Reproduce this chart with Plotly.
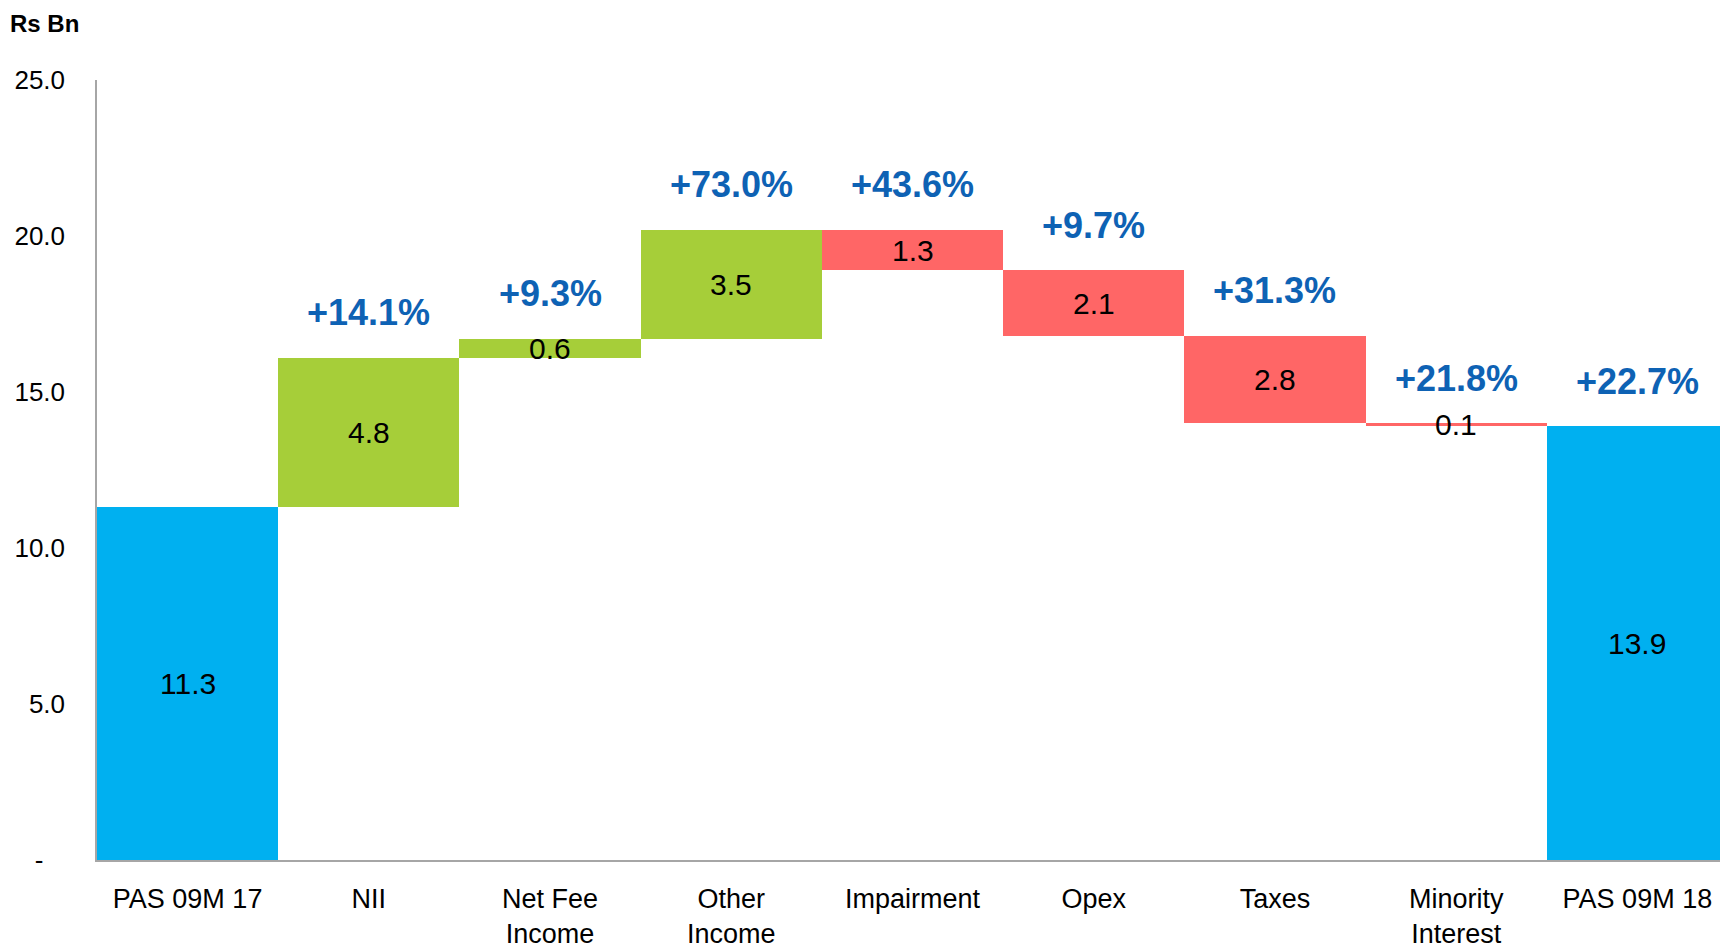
import plotly.graph_objects as go

categories = ["PAS 09M 17", "NII", "Net Fee<br>Income", "Other<br>Income", "Impairment",
              "Opex", "Taxes", "Minority<br>Interest", "PAS 09M 18"]
values = [11.3, 4.8, 0.6, 3.5, -1.3, -2.1, -2.8, -0.1, 13.9]
measures = ["absolute", "relative", "relative", "relative", "relative",
            "relative", "relative", "relative", "total"]
value_labels = ["11.3", "4.8", "0.6", "3.5", "1.3", "2.1", "2.8", "0.1", "13.9"]
growth_labels = ["", "+14.1%", "+9.3%", "+73.0%", "+43.6%", "+9.7%", "+31.3%", "+21.8%", "+22.7%"]
y_tickvals = [0, 5, 10, 15, 20, 25]
y_ticktext = ["-\u00a0\u00a0\u00a0", "5.0", "10.0", "15.0", "20.0", "25.0"]

FONT = "Liberation Sans, Arial, sans-serif"
GREEN = "#A6CE39"
RED = "#FF6666"
BLUE = "#00B0F0"
PCT = "#0E62B4"

W, H = 1720, 943
ML, MR, MT, MB = 89, 0, 72, 91

fig = go.Figure(go.Waterfall(
    x=categories,
    y=values,
    measure=measures,
    increasing=dict(marker=dict(color=GREEN)),
    decreasing=dict(marker=dict(color=RED)),
    totals=dict(marker=dict(color=BLUE)),
    connector=dict(visible=False),
    hoverinfo="skip",
    showlegend=False,
))

annotations = []
running = 0.0
for i, (c, v, m) in enumerate(zip(categories, values, measures)):
    if m == "absolute":
        lo, hi = 0.0, v
        running = v
    elif m == "total":
        lo, hi = 0.0, running
    else:
        start = running
        running = running + v
        lo, hi = min(start, running), max(start, running)
    mid = (lo + hi) / 2
    annotations.append(dict(x=c, y=mid, xref="x", yref="y", text=value_labels[i],
                            showarrow=False, font=dict(family=FONT, size=30, color="#000000"),
                            xanchor="center", yanchor="middle"))
    if growth_labels[i]:
        annotations.append(dict(x=c, y=hi, xref="x", yref="y", text="<b>" + growth_labels[i] + "</b>",
                                showarrow=False, font=dict(family=FONT, size=36, color=PCT),
                                xanchor="center", yanchor="middle", yshift=45))

pw = W - ML - MR
ph = H - MT - MB
annotations.append(dict(x=-ML / pw, y=1 + MT / ph, xref="paper", yref="paper",
                        text="<b>Rs Bn</b>", showarrow=False,
                        font=dict(family=FONT, size=24, color="#000000"),
                        xanchor="left", yanchor="top"))

fig.update_layout(
    width=W, height=H,
    margin=dict(l=ML, r=MR, t=MT, b=MB, autoexpand=False),
    paper_bgcolor="white", plot_bgcolor="white",
    waterfallgap=0,
    font=dict(family=FONT, size=27, color="#000000"),
    annotations=annotations,
    showlegend=False,
)

fig.update_xaxes(showline=True, linecolor="#A6A6A6", linewidth=1.5, ticks="",
                 tickfont=dict(family=FONT, size=27, color="#000000"),
                 ticklabelstandoff=14, showgrid=False)
fig.update_yaxes(range=[0, 25], tickvals=y_tickvals, ticktext=y_ticktext,
                 showline=True, linecolor="#A6A6A6", linewidth=1.5, ticks="",
                 showgrid=False, zeroline=False,
                 tickfont=dict(family=FONT, size=26, color="#000000"),
                 ticklabelstandoff=25)

fig.write_html("out.html")
